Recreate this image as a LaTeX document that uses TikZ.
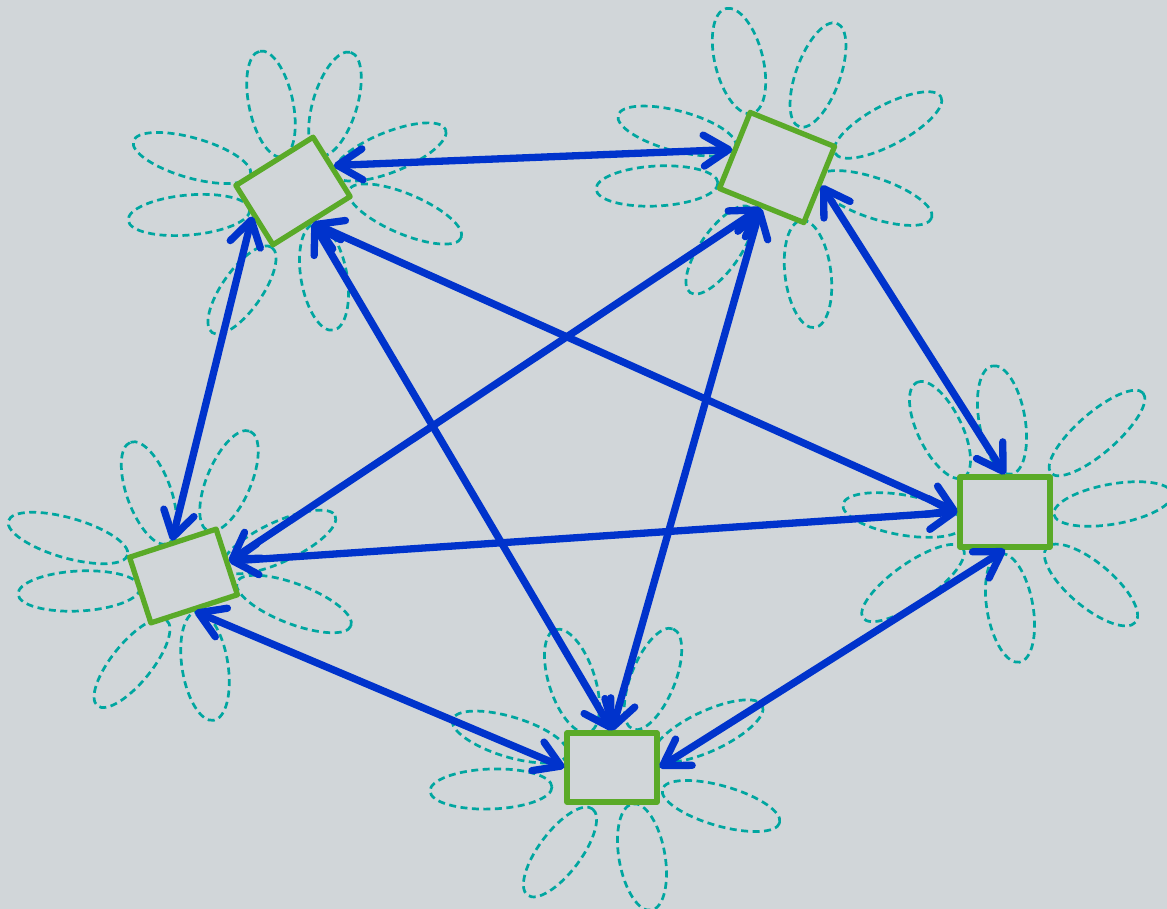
\documentclass[tikz,border=0pt]{standalone}
\usetikzlibrary{arrows.meta}
\definecolor{bg}{RGB}{209,214,217}
\definecolor{arr}{RGB}{0,51,204}
\definecolor{grn}{RGB}{90,170,40}
\definecolor{petalc}{RGB}{0,166,160}
\tikzset{
  box/.style={draw=grn, line width=5.3pt, line join=round, fill=bg, minimum width=91pt, minimum height=70pt, inner sep=0pt},
  petal/.style={draw=petalc, line width=2.7pt, dash pattern=on 7pt off 4.5pt},
  link/.style={draw=arr, line width=7.3pt, line cap=round, {Straight Barb[length=25pt,width=31pt,line cap=round,line join=round]}-{Straight Barb[length=25pt,width=31pt,line cap=round,line join=round]}}
}
\newcommand\petal[5]{\draw[petal, rotate around={#5:(#1,#2)}] (#1,#2) ellipse [x radius=#3, y radius=#4];}
\begin{document}
\begin{tikzpicture}[x=1pt,y=-1pt]
\fill[bg] (0,0) rectangle (1167,909);
\useasboundingbox (0,0) rectangle (1167,909);
% petals TL
\petal{271}{104}{54}{22}{102}
\petal{335}{104}{54}{22}{73}
\petal{390}{152}{60}{20}{22}
\petal{405}{214}{61}{20}{-23}
\petal{324}{277}{54}{23}{100}
\petal{242}{290}{52}{20}{55}
\petal{189}{215}{61}{20}{5}
\petal{192}{158}{61}{20}{-16}
% petals TR
\petal{739}{61}{54}{24}{104}
\petal{818}{75}{55}{22}{70}
\petal{888}{125}{60}{20}{28}
\petal{874}{198}{61}{20}{-19}
\petal{808}{274}{54}{23}{97}
\petal{720}{250}{52}{20}{55}
\petal{657}{186}{61}{20}{3}
\petal{677}{131}{61}{20}{-15}
% petals BL
\petal{149}{493}{54}{22}{110}
\petal{229}{481}{54}{22}{67}
\petal{279}{542}{62}{20}{25}
\petal{294}{604}{61}{20}{-21}
\petal{205}{666}{55}{23}{99}
\petal{132}{663}{55}{20}{51}
\petal{79}{591}{61}{20}{3}
\petal{68}{538}{62}{20}{-16}
% petals R
\petal{940}{430}{53}{22}{116}
\petal{1002}{420}{55}{23}{100}
\petal{1097}{433}{61}{20}{41}
\petal{1113}{504}{60}{20}{10}
\petal{1091}{585}{58}{22}{-40}
\petal{1010}{608}{55}{23}{100}
\petal{913}{583}{61}{20}{35}
\petal{903}{515}{61}{20}{-10}
% petals B
\petal{572}{681}{54}{23}{108}
\petal{653}{679}{54}{22}{68}
\petal{708}{731}{60}{20}{25}
\petal{721}{806}{61}{20}{-16}
\petal{642}{857}{54}{23}{100}
\petal{560}{852}{54}{21}{53}
\petal{491}{789}{61}{20}{2}
\petal{510}{737}{60}{20}{-17}
% boxes
\node[box, rotate=32] (TL) at (293,191) {};
\node[box, minimum height=82pt, rotate=-22] (TR) at (777,167.5) {};
\node[box, minimum height=69pt, rotate=18] (BL) at (183.5,576) {};
\node[box, minimum width=90pt] (R) at (1005,512) {};
\node[box, minimum width=90pt, minimum height=69pt] (B) at (612,767.5) {};
% links
\draw[link] (TL.east) -- (TR.west);
\draw[link] (TL.west) -- (BL.north);
\draw[link] (TL.south) -- (R.west);
\draw[link] (TL.south) -- (B.north);
\draw[link] (TR.south) -- (BL.east);
\draw[link] (TR.south) -- (B.north);
\draw[link] (TR.east) -- (R.north);
\draw[link] (BL.east) -- (R.west);
\draw[link] (BL.south) -- (B.west);
\draw[link] (R.south) -- (B.east);
\end{tikzpicture}
\end{document}
